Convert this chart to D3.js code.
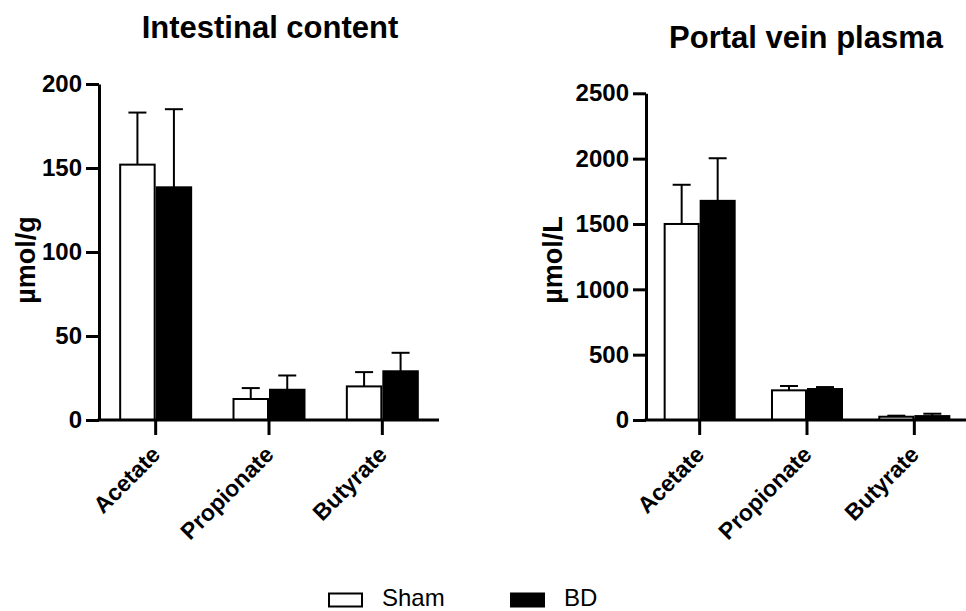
<!DOCTYPE html>
<html>
<head>
<meta charset="utf-8">
<script src="https://cdn.jsdelivr.net/npm/d3@7/dist/d3.min.js"></script>
<style>
  html, body { margin: 0; padding: 0; background: #fff; }
  svg { display: block; font-family: Arial, "Liberation Sans", sans-serif; }
</style>
</head>
<body>
<svg id="chart" width="966" height="611"></svg>
<script>
// ---- data ----
const categories = ["Acetate", "Propionate", "Butyrate"];
const groups = ["Sham", "BD"];

const intestinalSham    = [152, 12.5, 20];
const intestinalShamErr = [183, 19, 28.5];
const intestinalBD      = [138.5, 18, 29];
const intestinalBDErr   = [185, 26.5, 40];
const intestinalTicks   = [0, 50, 100, 150, 200];

const portalSham    = [1500, 227, 25];
const portalShamErr = [1800, 260, 33];
const portalBD      = [1677, 237, 30];
const portalBDErr   = [2003, 252, 48];
const portalTicks   = [0, 500, 1000, 1500, 2000, 2500];

const svg = d3.select("#chart");

function panel(cfg) {
  const g = svg.append("g");
  const x = d3.scaleBand().domain(categories)
    .range([cfg.x0, cfg.x1]).paddingInner(cfg.pad).paddingOuter(cfg.pad / 2);
  const xs = d3.scaleBand().domain(groups).range([0, x.bandwidth()]);
  const y = d3.scaleLinear().domain([0, cfg.ymax]).range([420, cfg.ytop]);

  const rows = [];
  categories.forEach((c, i) => {
    rows.push({cat: c, grp: "Sham", v: cfg.sham[i], e: cfg.shamErr[i]});
    rows.push({cat: c, grp: "BD", v: cfg.bd[i], e: cfg.bdErr[i]});
  });

  // error bars (drawn first, bar covers the lower part)
  const eb = g.append("g").attr("stroke", "#000").attr("stroke-width", 2);
  rows.forEach(d => {
    const cx = x(d.cat) + xs(d.grp) + xs.bandwidth() / 2;
    eb.append("line").attr("x1", cx).attr("x2", cx).attr("y1", y(d.v)).attr("y2", y(d.e));
    eb.append("line").attr("x1", cx - 9).attr("x2", cx + 9).attr("y1", y(d.e)).attr("y2", y(d.e));
  });

  g.append("g").selectAll("rect").data(rows).join("rect")
    .attr("x", d => x(d.cat) + xs(d.grp) + 1)
    .attr("width", xs.bandwidth() - 2)
    .attr("y", d => y(d.v))
    .attr("height", d => 420 - y(d.v))
    .attr("fill", d => d.grp === "Sham" ? "#fff" : "#000")
    .attr("stroke", "#000").attr("stroke-width", 2);

  // y axis
  const ya = g.append("g").attr("transform", `translate(${cfg.x0},0)`)
    .call(d3.axisLeft(y).tickValues(cfg.ticks).tickFormat(d3.format("d"))
      .tickSize(13).tickSizeOuter(0).tickPadding(4));
  ya.selectAll("path, line").attr("stroke", "#000").attr("stroke-width", 3);
  ya.selectAll("text").attr("font-size", 24).attr("font-weight", "bold")
    .attr("font-family", 'Arial, "Liberation Sans", sans-serif').attr("fill", "#000");

  // x axis
  const xa = g.append("g").attr("transform", "translate(0,420)")
    .call(d3.axisBottom(x).tickSize(15).tickSizeOuter(0).tickFormat(""));
  xa.select(".domain").attr("d", `M${cfg.x0 - 1.5},0H${cfg.xAxisEnd}`);
  xa.selectAll("path, line").attr("stroke", "#000").attr("stroke-width", 3);

  // category labels
  g.append("g").selectAll("text").data(categories).join("text")
    .attr("transform", d => `translate(${x(d) + x.bandwidth() / 2 + 6},456) rotate(-45)`)
    .attr("text-anchor", "end")
    .attr("font-size", 23).attr("font-weight", "bold").attr("fill", "#000")
    .text(d => d);

  // y label
  g.append("text")
    .attr("transform", `translate(${cfg.ylabX},260) rotate(-90)`)
    .attr("text-anchor", "middle")
    .attr("font-size", 27).attr("font-weight", "bold").attr("fill", "#000")
    .text(cfg.ylabel);

  // title
  g.append("text").attr("x", cfg.titleX).attr("y", cfg.titleY)
    .attr("text-anchor", "middle")
    .attr("font-size", 31).attr("font-weight", "bold").attr("fill", "#000")
    .text(cfg.title);
}

panel({
  x0: 99, x1: 439, xAxisEnd: 439, pad: 0.356, ymax: 200, ytop: 84,
  sham: intestinalSham, shamErr: intestinalShamErr, bd: intestinalBD, bdErr: intestinalBDErr,
  ticks: intestinalTicks, ylabel: "µmol/g", ylabX: 35,
  title: "Intestinal content", titleX: 270, titleY: 38
});

panel({
  x0: 646, x1: 968, xAxisEnd: 966, pad: 0.329, ymax: 2500, ytop: 93.3,
  sham: portalSham, shamErr: portalShamErr, bd: portalBD, bdErr: portalBDErr,
  ticks: portalTicks, ylabel: "µmol/L", ylabX: 562,
  title: "Portal vein plasma", titleX: 806, titleY: 48
});

// legend
const legend = svg.append("g");
const legendItems = [{name: "Sham", fill: "#fff", x: 329}, {name: "BD", fill: "#000", x: 511}];
legendItems.forEach(d => {
  legend.append("rect").attr("x", d.x).attr("y", 593.5).attr("width", 33).attr("height", 13)
    .attr("fill", d.fill).attr("stroke", "#000").attr("stroke-width", 2);
  legend.append("text").attr("x", d.x + 53).attr("y", 606)
    .attr("font-size", 24).attr("fill", "#000").text(d.name);
});
</script>
</body>
</html>
